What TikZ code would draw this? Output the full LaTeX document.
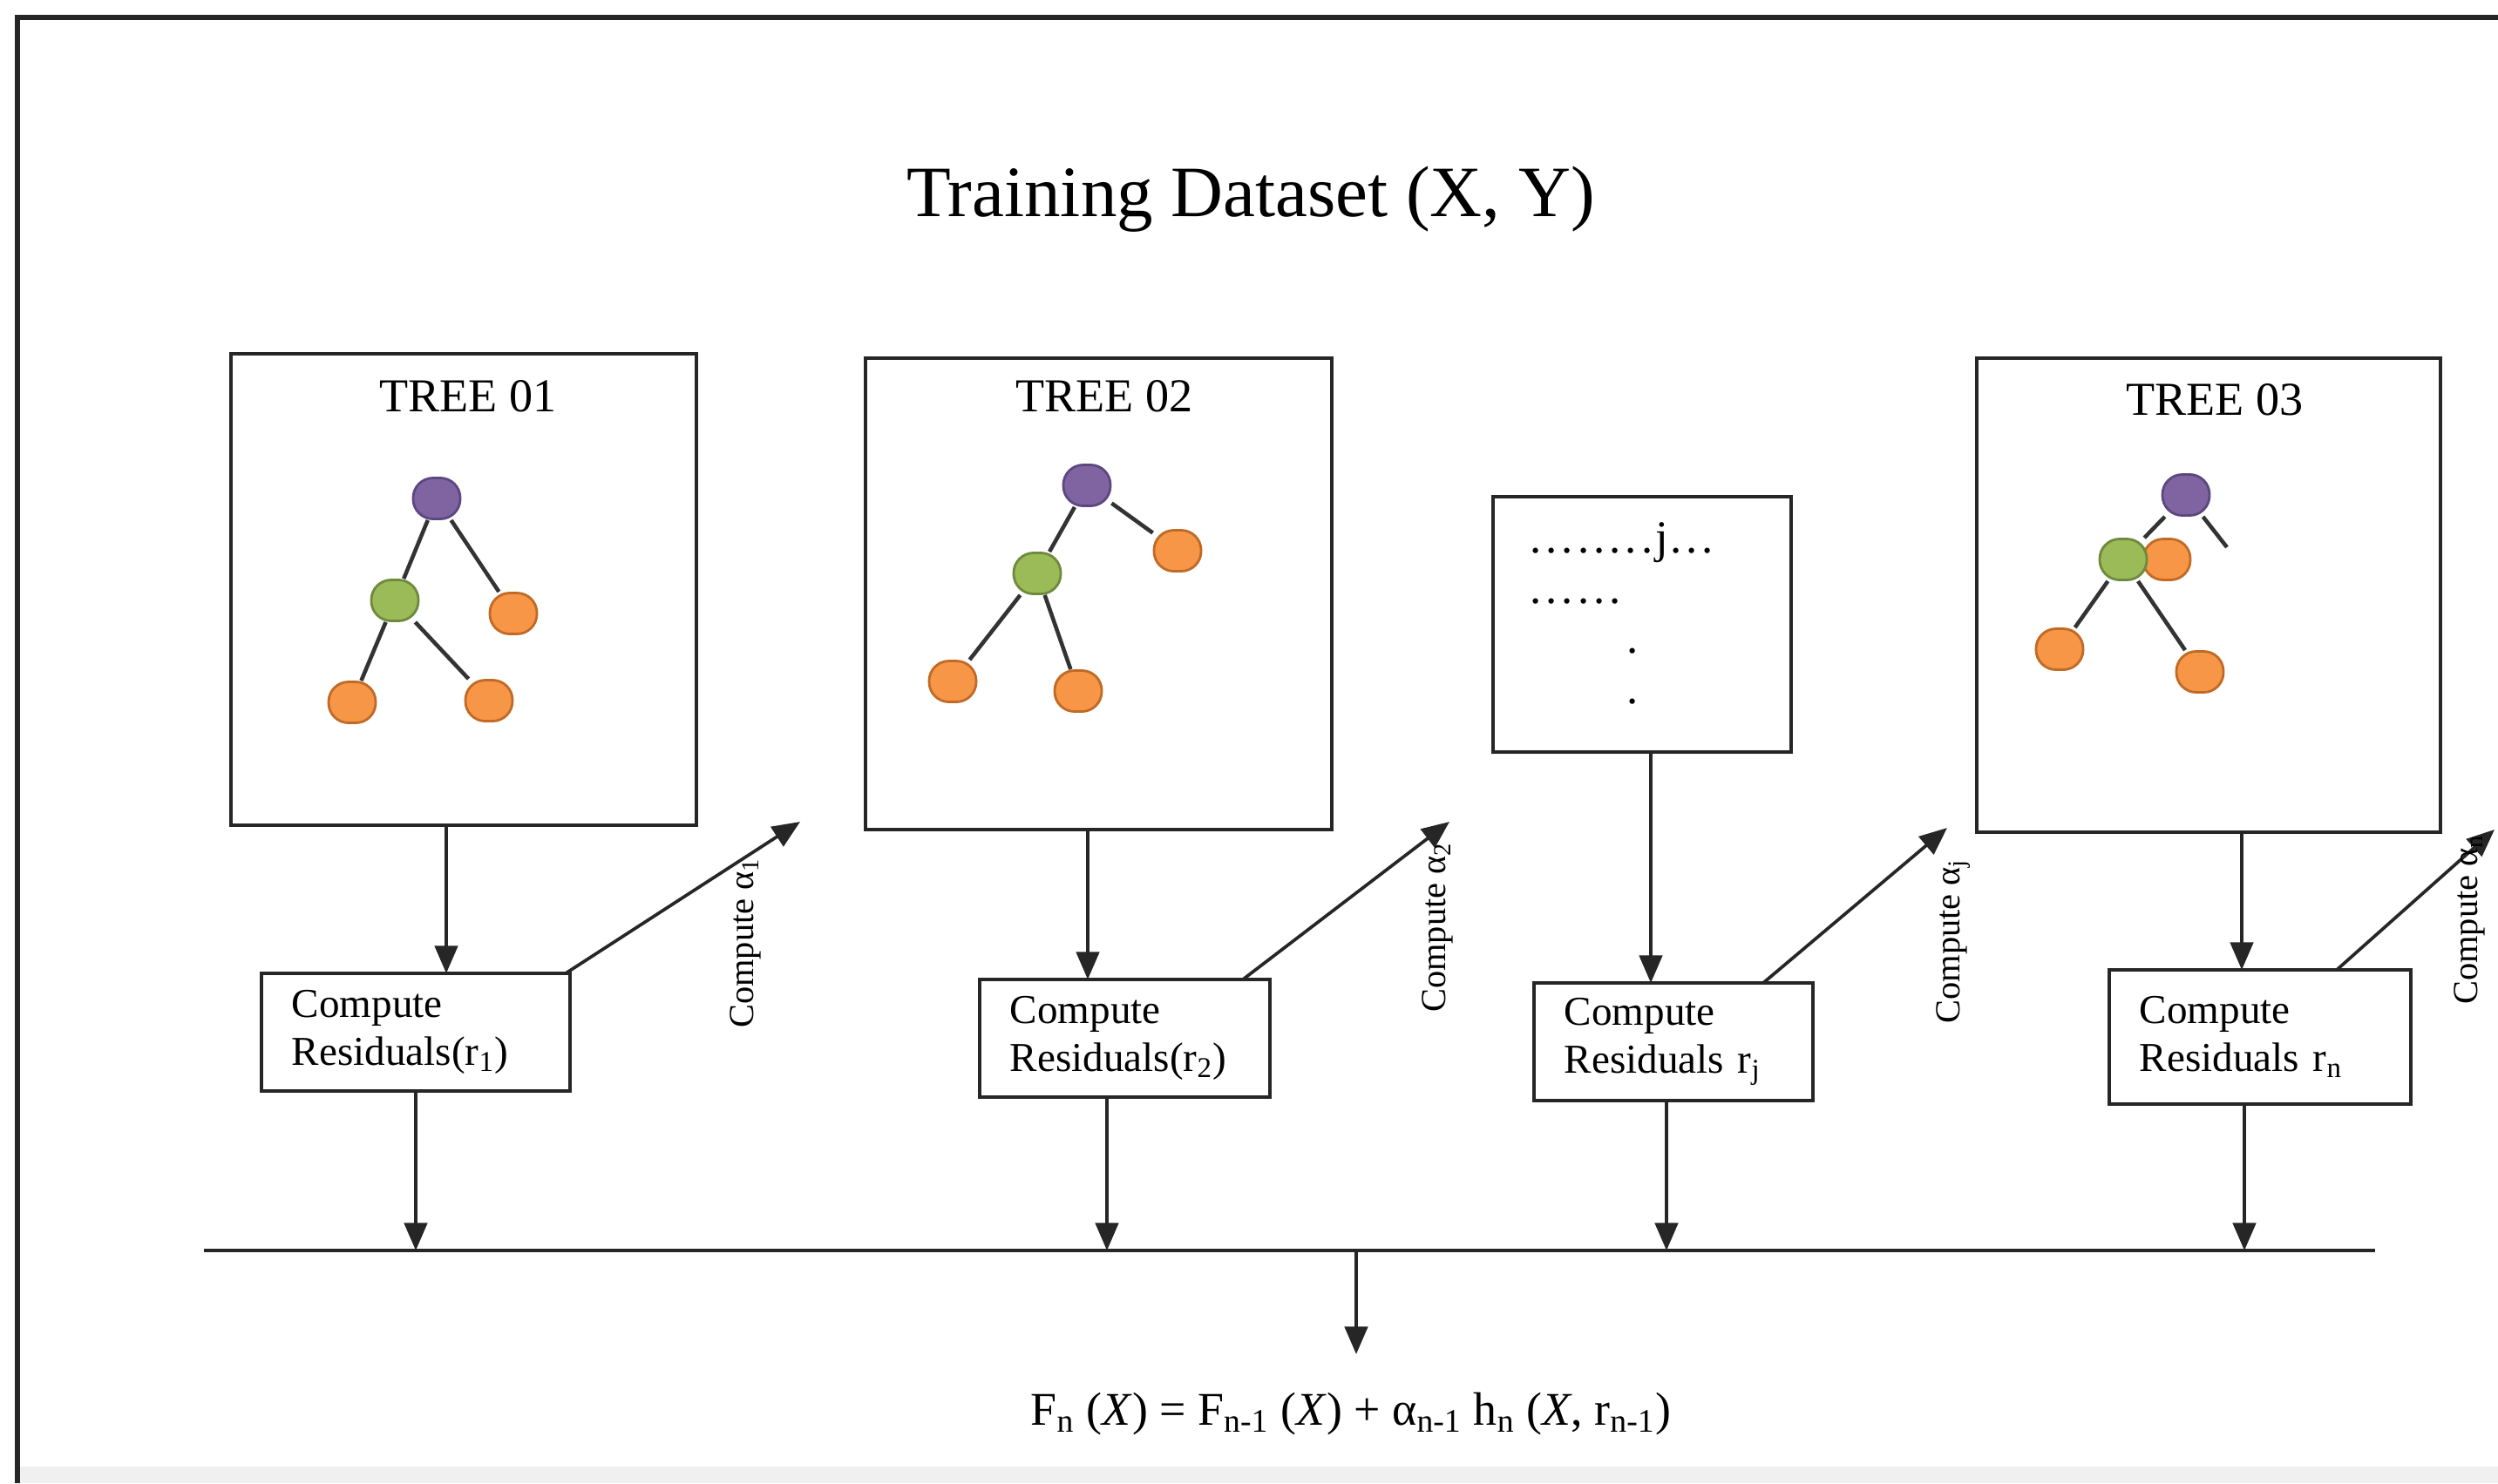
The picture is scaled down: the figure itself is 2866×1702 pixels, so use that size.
\documentclass[tikz,border=0pt]{standalone}
\usepackage{fontspec}
\setmainfont{Liberation Serif}
\usetikzlibrary{arrows.meta,calc}
\definecolor{tpurple}{HTML}{8064A2}
\definecolor{tpurpleD}{HTML}{5C4880}
\definecolor{tgreen}{HTML}{9BBB59}
\definecolor{tgreenD}{HTML}{6E8A3C}
\definecolor{torange}{HTML}{F79646}
\definecolor{torangeD}{HTML}{C06A26}
\newcommand\jd{\makebox[5.2pt]{.}}
\begin{document}
\begin{tikzpicture}[x=0.01cm,y=-0.01cm,
  outerframe/.style={draw=black!85, line width=1.5pt},
  treebox/.style={draw=black!85, line width=1.3pt, inner sep=0pt, outer sep=0pt},
  resbox/.style={draw=black!85, line width=1.3pt, align=left, inner xsep=3.5mm, inner ysep=0pt, outer sep=0pt, font=\fontsize{13.4}{15.5}\selectfont},
  flowarrow/.style={draw=black!85, line width=1.05pt, -{Triangle[length=9pt,width=7.5pt]}},
  busline/.style={draw=black!85, line width=1.2pt},
  treeline/.style={draw=black!80, line width=1.3pt},
  tn/.style={rounded corners=6.5pt, minimum width=5.4mm, minimum height=4.7mm, inner sep=0pt, line width=0.8pt},
  purplenode/.style={tn, fill=tpurple, draw=tpurpleD},
  greennode/.style={tn, fill=tgreen, draw=tgreenD},
  orangenode/.style={tn, fill=torange, draw=torangeD},
  treefont/.style={font=\fontsize{15.4}{18}\selectfont},
  jfont/.style={font=\fontsize{15}{18}\selectfont, inner sep=0pt},
  alabel/.style={rotate=90, font=\fontsize{11.5}{13}\selectfont},
]
\fill[white] (0,0) rectangle (2866,1702);
\useasboundingbox (0,0) rectangle (2866,1702);
\fill[black!6] (20,1683) rectangle (2866,1702);
\draw[outerframe] (20,1702) -- (20,20) -- (2866,20);

% title
\node[font=\fontsize{23.6}{28}\selectfont] (title) at (1435,229) {Training Dataset (X, Y)};

% ---------- tree 1
\node[treebox, minimum width=53.4mm, minimum height=54.1mm] (t1) at (532,676.5) {};
\node[treefont] (t1lab) at (537,455) {TREE 01};
\node[purplenode] (p1) at (501,572) {};
\node[greennode] (g1) at (453,689) {};
\node[orangenode] (o1a) at (589,704) {};
\node[orangenode] (o1b) at (404,806) {};
\node[orangenode] (o1c) at (561,804) {};
\draw[treeline] (p1) -- (g1);
\draw[treeline] (p1) -- (o1a);
\draw[treeline] (g1) -- (o1b);
\draw[treeline] (g1) -- (o1c);

% ---------- tree 2
\node[treebox, minimum width=53.5mm, minimum height=54.1mm] (t2) at (1260.5,681.5) {};
\node[treefont] (t2lab) at (1267,455) {TREE 02};
\node[purplenode] (p2) at (1247,557) {};
\node[greennode] (g2) at (1190,658) {};
\node[orangenode] (o2a) at (1351,632) {};
\node[orangenode] (o2b) at (1093,782) {};
\node[orangenode] (o2c) at (1237,793) {};
\draw[treeline] (p2) -- (g2);
\draw[treeline] (p2) -- (o2a);
\draw[treeline] (g2) -- (o2b);
\draw[treeline] (g2) -- (o2c);

% ---------- j box
\node[treebox, minimum width=34.2mm, minimum height=29.3mm] (jb) at (1884,716.5) {};
\node[jfont, anchor=base west] (jl1) at (1752,634) {\jd\jd\jd\jd\jd\jd\jd\jd j\jd\jd\jd};
\node[jfont, anchor=base west] (jl2) at (1752,692) {\jd\jd\jd\jd\jd\jd};
\node[jfont, anchor=base] (jl3) at (1873,749) {.};
\node[jfont, anchor=base] (jl4) at (1873,807) {.};

% ---------- tree 3
\node[treebox, minimum width=53.2mm, minimum height=54.4mm] (t3) at (2534,683) {};
\node[treefont] (t3lab) at (2541,459) {TREE 03};
\node[purplenode] (p3) at (2508,568) {};
\node[orangenode] (o3a) at (2486,642) {};
\node[greennode] (g3) at (2436,642) {};
\node[orangenode] (o3b) at (2363,745) {};
\node[orangenode] (o3c) at (2524,771) {};
\coordinate (s3) at (2555,628);
\draw[treeline] (p3) -- (g3);
\draw[treeline] (p3) -- (s3);
\draw[treeline] (g3) -- (o3b);
\draw[treeline] (g3) -- (o3c);

% ---------- residual boxes
\node[resbox, text width=28.4mm, minimum height=13.5mm] (r1) at (477,1184.5) {Compute\\Residuals(r\textsubscript{1})};
\node[resbox, text width=26.3mm, minimum height=13.5mm] (r2) at (1290.5,1191.5) {Compute\\Residuals(r\textsubscript{2})};
\node[resbox, text width=25mm, minimum height=13.5mm, inner xsep=3.5mm] (rj) at (1920,1195.5) {Compute\\Residuals r\textsubscript{j}};
\node[resbox, text width=27.6mm, minimum height=15.4mm] (rn) at (2593,1190) {Compute\\Residuals r\textsubscript{n}};

% ---------- vertical arrows tree -> residuals
\coordinate (d1) at (512,0);
\coordinate (d2) at (1248,0);
\coordinate (d3) at (1894,0);
\coordinate (d4) at (2572,0);
\draw[flowarrow] (t1.south -| d1) -- (r1.north -| d1);
\draw[flowarrow] (t2.south -| d2) -- (r2.north -| d2);
\draw[flowarrow] (jb.south -| d3) -- (rj.north -| d3);
\draw[flowarrow] (t3.south -| d4) -- (rn.north -| d4);

% ---------- diagonal arrows
\coordinate (a1s) at (649,0);
\coordinate (a2s) at (1426,0);
\coordinate (a3s) at (2023,0);
\coordinate (a4s) at (2681,0);
\coordinate (a1e) at (918,943);
\coordinate (a2e) at (1663,943);
\coordinate (a3e) at (2234,950);
\coordinate (a4e) at (2862,952);
\draw[flowarrow] (r1.north -| a1s) -- (a1e);
\draw[flowarrow] (r2.north -| a2s) -- (a2e);
\draw[flowarrow] (rj.north -| a3s) -- (a3e);
\draw[flowarrow] (rn.north -| a4s) -- (a4e);

\node[alabel] (c1) at (855,1082) {Compute α\textsubscript{1}};
\node[alabel] (c2) at (1649,1064) {Compute α\textsubscript{2}};
\node[alabel] (c3) at (2241,1080) {Compute α\textsubscript{j}};
\node[alabel] (c4) at (2833,1055) {Compute α\textsubscript{n}};

% ---------- bus line
\coordinate (busl) at (234,1435);
\coordinate (busr) at (2725,1435);
\draw[busline] (busl) -- (busr);
\coordinate (b1) at (477,0);
\coordinate (b2) at (1270,0);
\coordinate (b3) at (1912,0);
\coordinate (b4) at (2575,0);
\draw[flowarrow] (r1.south -| b1) -- (busl -| b1);
\draw[flowarrow] (r2.south -| b2) -- (busl -| b2);
\draw[flowarrow] (rj.south -| b3) -- (busl -| b3);
\draw[flowarrow] (rn.south -| b4) -- (busl -| b4);

% ---------- final formula
\coordinate (fx) at (1556,0);
\coordinate (fend) at (1556,1554);
\draw[flowarrow] (busl -| fx) -- (fend);
\node[font=\fontsize{15.3}{18}\selectfont] (fml) at (1550,1623)
  {F\textsubscript{n} (\textit{X}) = F\textsubscript{n-1} (\textit{X}) + α\textsubscript{n-1} h\textsubscript{n} (\textit{X}, r\textsubscript{n-1})};
\end{tikzpicture}
\end{document}
